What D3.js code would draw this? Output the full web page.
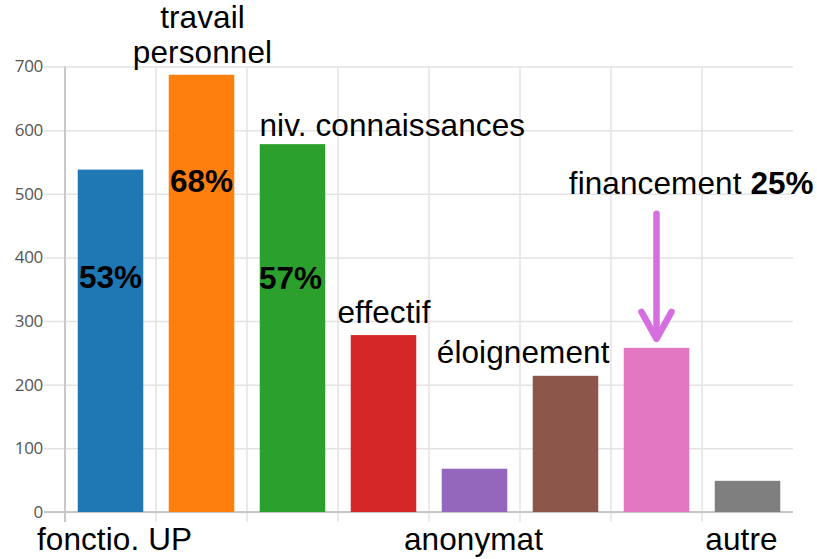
<!DOCTYPE html>
<html>
<head>
<meta charset="utf-8">
<script src="https://cdn.jsdelivr.net/npm/d3@7"></script>
<style>
  body { margin: 0; background: #fff; }
  svg { display: block; }
</style>
</head>
<body>
<svg id="chart" width="817" height="559"></svg>
<script>
// data
const categories = ["fonctio. UP", "travail personnel", "niv. connaissances", "effectif",
                    "anonymat", "éloignement", "financement", "autre"];
const counts = [538, 687, 578, 278, 68, 214, 258, 49];
const percents = ["53%", "68%", "57%", null, null, null, "25%", null];
const yTicks = [0, 100, 200, 300, 400, 500, 600, 700];
const colors = ["#1f77b4", "#ff7f0e", "#2ca02c", "#d62728", "#9467bd", "#8c564b", "#e377c2", "#7f7f7f"];

const svg = d3.select("#chart");
const margin = {top: 66.5, right: 24, bottom: 47, left: 65};
const width = 817 - margin.left - margin.right;
const height = 559 - margin.top - margin.bottom;

const g = svg.append("g").attr("transform", `translate(${margin.left},${margin.top})`);

const x = d3.scaleBand()
    .domain(categories)
    .range([0, width])
    .paddingInner(0.28)
    .paddingOuter(0.14);

const y = d3.scaleLinear()
    .domain([0, 700])
    .range([height, 0]);

// horizontal grid + y labels
const yAxis = g.append("g")
    .call(d3.axisLeft(y).tickValues(yTicks).tickSize(-width).tickPadding(22));
yAxis.select(".domain").remove();
yAxis.selectAll(".tick line")
    .attr("x1", -21)
    .attr("stroke", "#e3e3e3")
    .attr("stroke-width", 1.5);
yAxis.selectAll(".tick text")
    .attr("fill", "#555")
    .style("font-family", "'Open Sans', sans-serif")
    .style("font-size", "17px")
    .style("letter-spacing", "-0.3px");

// vertical grid at band boundaries
const half = x.step() * x.paddingInner() / 2;
g.append("g").selectAll("line")
    .data(categories)
    .join("line")
    .attr("x1", d => x(d) - half)
    .attr("x2", d => x(d) - half)
    .attr("y1", 0)
    .attr("y2", height + 10)
    .attr("stroke", (d, i) => i === 0 ? "#c8c8c8" : "#e3e3e3")
    .attr("stroke-width", (d, i) => i === 0 ? 2 : 1.5);

// baseline
g.append("line")
    .attr("x1", -21).attr("x2", width)
    .attr("y1", y(0)).attr("y2", y(0))
    .attr("stroke", "#c8c8c8")
    .attr("stroke-width", 2);

// bars
g.append("g").selectAll("rect")
    .data(categories)
    .join("rect")
    .attr("x", d => x(d))
    .attr("y", (d, i) => y(counts[i]))
    .attr("width", x.bandwidth())
    .attr("height", (d, i) => y(0) - y(counts[i]))
    .attr("fill", (d, i) => colors[i]);

// category labels, placed by hand around the bars
const labelFont = "'Liberation Sans', Arial, sans-serif";
const fontSize = "31.5px";
const place = [
  {anchor: "middle", dx: 4, y: () => y(0) + 38},
  {anchor: "middle", dx: 1, y: i => y(counts[i]) - 10, lines: ["travail", "personnel"]},
  {anchor: "start", dx: -33, y: i => y(counts[i]) - 8},
  {anchor: "start", dx: -46, y: i => y(counts[i]) - 12},
  {anchor: "middle", dx: -1, y: () => y(0) + 38},
  {anchor: "end", dx: 44, y: i => y(counts[i]) - 13},
  {anchor: "end", dx: 85, y: i => y(counts[i]) - 154},
  {anchor: "middle", dx: -6, y: () => y(0) + 38}
];

const labels = g.append("g")
    .style("font-family", labelFont)
    .style("font-size", fontSize)
    .style("letter-spacing", "0.1px")
    .attr("fill", "#000");

categories.forEach((c, i) => {
  const p = place[i];
  const cx = x(c) + x.bandwidth() / 2 + p.dx;
  const t = labels.append("text")
      .attr("x", cx)
      .attr("y", p.y(i))
      .attr("text-anchor", p.anchor);
  if (p.lines) {
    t.attr("y", p.y(i) - 37);
    p.lines.forEach((l, k) => t.append("tspan").attr("x", cx).attr("dy", k ? 35.5 : 0).text(l));
  } else {
    t.text(c);
  }
});

// percentages
const pctPlace = {0: {dy: 118, dx: 0}, 1: {dy: 117, dx: 0}, 2: {dy: 145, dx: -2}};
categories.forEach((c, i) => {
  if (!percents[i]) return;
  const cx = x(c) + x.bandwidth() / 2;
  const t = g.append("text")
      .style("font-family", labelFont)
      .style("font-size", fontSize)
      .style("font-weight", "bold")
      .text(percents[i]);
  if (pctPlace[i]) {
    t.attr("x", cx + pctPlace[i].dx)
     .attr("y", y(counts[i]) + pctPlace[i].dy)
     .attr("text-anchor", "middle");
  } else {
    // financement: percent next to its label
    t.attr("x", cx + 94)
     .attr("y", y(counts[i]) - 154)
     .attr("text-anchor", "start");
  }
});

// arrow pointing at financement
const fi = categories.indexOf("financement");
const ax = x(categories[fi]) + x.bandwidth() / 2;
const tipY = y(counts[fi]) - 6;
const arrow = g.append("g")
    .attr("stroke", "#d66ee0")
    .attr("stroke-width", 6.5)
    .attr("fill", "none")
    .attr("stroke-linecap", "round")
    .attr("stroke-linejoin", "round");
arrow.append("line")
    .attr("x1", ax).attr("x2", ax)
    .attr("y1", tipY - 128).attr("y2", tipY - 4);
arrow.append("path")
    .attr("d", `M${ax - 15},${tipY - 30} L${ax},${tipY - 3} L${ax + 15},${tipY - 30}`);
</script>
</body>
</html>
